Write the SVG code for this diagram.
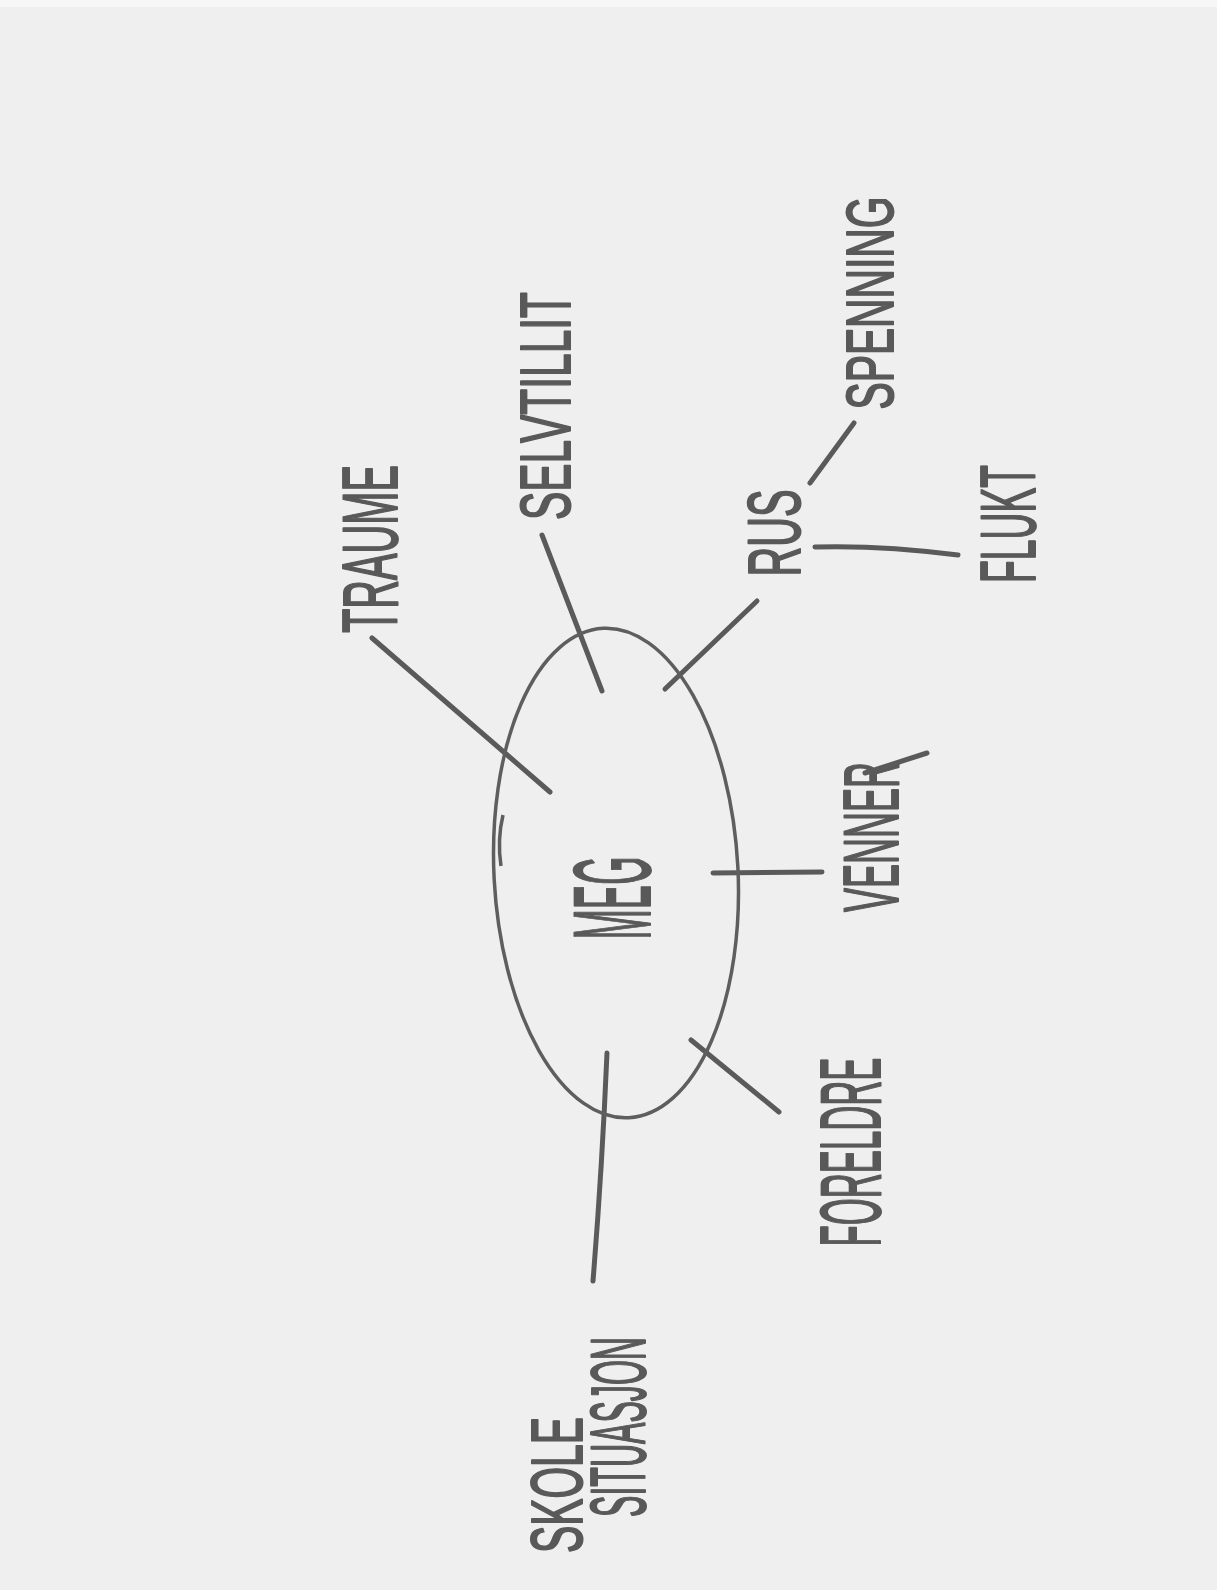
<svg xmlns="http://www.w3.org/2000/svg" width="1217" height="1590" viewBox="0 0 1217 1590">
<style>
.bg{fill:#efefef}
.ln{fill:none;stroke:#5a5a5a;stroke-width:5;stroke-linecap:round}
.el{fill:none;stroke:#5e5e5e;stroke-width:3.5}
.t{font-family:"Liberation Sans",Arial,sans-serif;fill:#595959;stroke:#595959;stroke-width:2;stroke-linejoin:round;text-anchor:middle}
</style>
<rect class="bg" x="0" y="0" width="1217" height="1590"/>
<rect x="0" y="0" width="1217" height="7" fill="#f7f7f7"/>
<g id="connectors">
<path class="ln" d="M372,638 L550,792"/>
<path class="ln" d="M542,535 L602,691"/>
<path class="ln" d="M757,601 L665,689"/>
<path class="ln" d="M713,873 L822,872"/>
<path class="ln" d="M691,1040 L779,1112"/>
<path class="ln" d="M607,1053 Q602,1170 593,1281"/>
<path class="ln" d="M810,483 L854,423"/>
<path class="ln" d="M815,547 Q880,545 958,555"/>
</g>
<g id="node-meg">
<ellipse class="el" cx="616" cy="873" rx="122" ry="245" transform="rotate(-3 616 873)"/>
<path class="el" d="M503,815 Q497,840 501,866"/>
<text class="t" font-size="110" textLength="83" lengthAdjust="spacingAndGlyphs" transform="translate(650,898) rotate(-90)">MEG</text>
</g>
<g id="node-traume">
<text class="t" font-size="77" textLength="168" lengthAdjust="spacingAndGlyphs" transform="translate(397,549) rotate(-90)">TRAUME</text>
</g>
<g id="node-selvtillit">
<text class="t" font-size="70" textLength="228" lengthAdjust="spacingAndGlyphs" transform="translate(570,406) rotate(-90)">SELVTILLIT</text>
</g>
<g id="node-rus">
<text class="t" font-size="74" textLength="87" lengthAdjust="spacingAndGlyphs" transform="translate(800,533) rotate(-90)">RUS</text>
</g>
<g id="node-spenning">
<text class="t" font-size="67" textLength="213" lengthAdjust="spacingAndGlyphs" transform="translate(893,303) rotate(-90)">SPENNING</text>
</g>
<g id="node-flukt">
<text class="t" font-size="77" textLength="118" lengthAdjust="spacingAndGlyphs" transform="translate(1035,524) rotate(-90)">FLUKT</text>
</g>
<g id="node-venner">
<text class="t" font-size="77" textLength="150" lengthAdjust="spacingAndGlyphs" transform="translate(898,837) rotate(-90)">VENNER</text>
<path class="ln" d="M865,773 L927,753"/>
</g>
<g id="node-foreldre">
<text class="t" font-size="86" textLength="189" lengthAdjust="spacingAndGlyphs" transform="translate(880,1152) rotate(-90)">FORELDRE</text>
</g>
<g id="node-skolesituasjon">
<text class="t" font-size="72" textLength="136" lengthAdjust="spacingAndGlyphs" transform="translate(582,1485) rotate(-90)">SKOLE</text>
<text class="t" font-size="77" textLength="180" lengthAdjust="spacingAndGlyphs" transform="translate(645,1427) rotate(-90)">SITUASJON</text>
</g>
</svg>
